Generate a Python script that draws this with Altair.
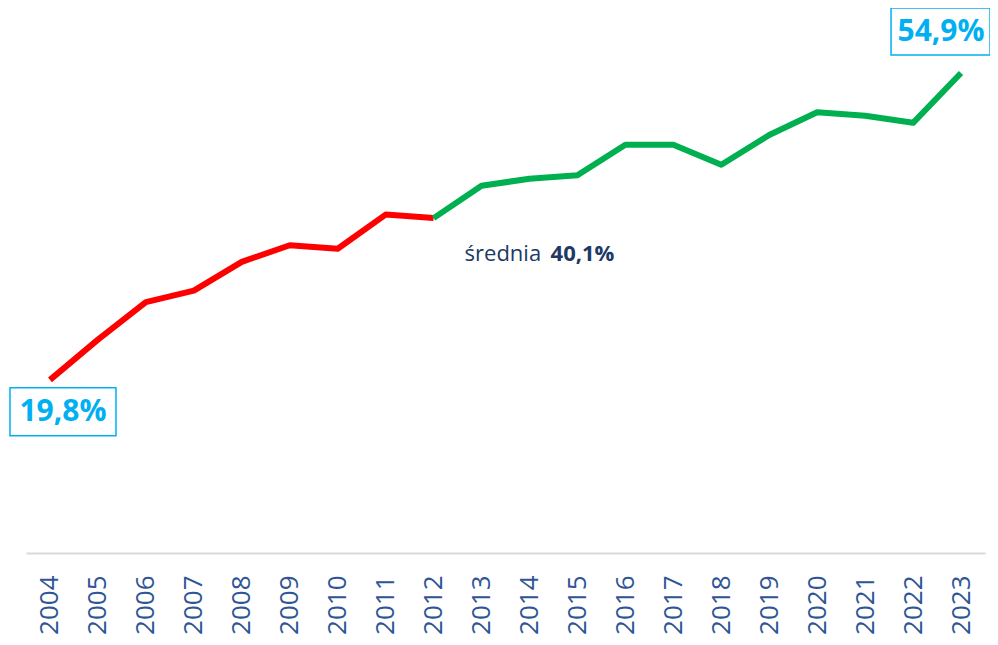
import altair as alt
import pandas as pd

years = [str(y) for y in range(2004, 2024)]
values = [19.8, 24.4, 28.7, 30.0, 33.3, 35.2, 34.8, 38.7, 38.3, 42.0,
          42.8, 43.2, 46.7, 46.7, 44.4, 47.8, 50.4, 50.0, 49.2, 54.9]
labels = ["19,8%", "", "", "", "", "", "", "", "", "", "", "", "", "", "", "", "", "", "", "54,9%"]
avg_prefix = "średnia"
avg_value = "40,1%"

split_year = "2012"
rows = []
for y, v in zip(years, values):
    if int(y) <= int(split_year):
        rows.append({"year": y, "value": v, "seg": "red"})
    if int(y) >= int(split_year):
        rows.append({"year": y, "value": v, "seg": "green"})
line_df = pd.DataFrame(rows)
pts = pd.DataFrame({"year": years, "value": values, "label": labels})

FONT = "Open Sans"
BLUE = "#00B0F0"
NAVY = "#203864"

x = alt.X("year:O", scale=alt.Scale(type="point", padding=0.5),
          axis=alt.Axis(title=None, labelAngle=-90, labelFontSize=26, labelFont=FONT,
                        labelColor="#2F5597", ticks=False, labelPadding=22,
                        domainColor="#D9D9D9", domainWidth=2, grid=False))
y = alt.Y("value:Q", scale=alt.Scale(domain=[0, 60.5]), axis=None)

line = alt.Chart(line_df).mark_line(strokeWidth=6, strokeJoin="round").encode(
    x=x, y=y,
    color=alt.Color("seg:N", scale=alt.Scale(domain=["red", "green"], range=["#FF0000", "#00B050"]), legend=None),
    detail="seg:N",
)

base = alt.Chart(pts)
first = base.transform_filter(alt.datum.year == years[0])
last = base.transform_filter(alt.datum.year == years[-1])
mid = base.transform_filter(alt.datum.year == split_year)

box_l = first.mark_rect(fill="white", stroke=BLUE, strokeWidth=1.5,
                        xOffset=-40, x2Offset=66, yOffset=8, y2Offset=56).encode(
    x=x, x2="year:O", y=y, y2="value:Q")
box_r = last.mark_rect(fill="white", stroke=BLUE, strokeWidth=1.5,
                       xOffset=-70, x2Offset=29, yOffset=-65, y2Offset=-18).encode(
    x=x, x2="year:O", y=y, y2="value:Q")
txt_l = first.mark_text(font=FONT, fontSize=30, fontWeight="bold", color=BLUE,
                        dx=13, dy=32, baseline="middle", align="center").encode(x=x, y=y, text="label:N")
txt_r = last.mark_text(font=FONT, fontSize=30, fontWeight="bold", color=BLUE,
                       dx=-20, dy=-41, baseline="middle", align="center").encode(x=x, y=y, text="label:N")

avg1 = mid.mark_text(font=FONT, fontSize=22, color=NAVY, align="left", baseline="alphabetic",
                     dx=31, dy=43).encode(x=x, y=y, text=alt.value(avg_prefix))
avg2 = mid.mark_text(font=FONT, fontSize=22, fontWeight="bold", color=NAVY, align="left",
                     baseline="alphabetic", dx=117, dy=43).encode(x=x, y=y, text=alt.value(avg_value))

chart = alt.layer(line, box_l, box_r, txt_l, txt_r, avg1, avg2).properties(
    width=959, height=529,
    autosize=alt.AutoSizeParams(type="none"),
    padding={"left": 18, "top": 16, "right": 5, "bottom": 84},
).configure_view(stroke=None)

chart.save("out.html", embed_options={"renderer": "svg", "actions": False})
